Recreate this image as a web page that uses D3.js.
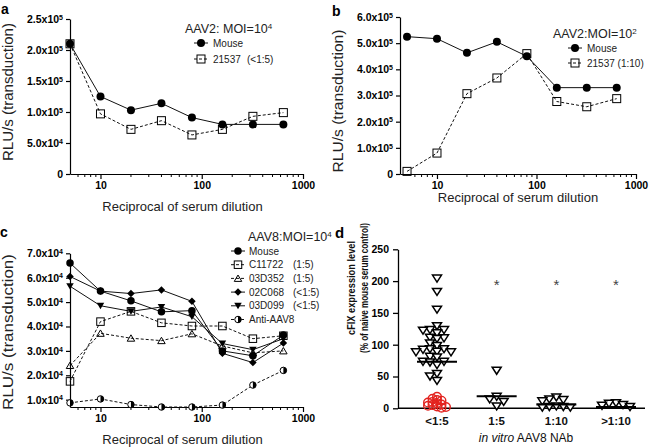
<!DOCTYPE html>
<html><head><meta charset="utf-8">
<script src="https://cdn.jsdelivr.net/npm/d3@7"></script>
<style>
body{margin:0;background:#fff}
svg{display:block;font-family:"Liberation Sans",Arial,sans-serif}
</style></head><body>
<svg id="chart" width="654" height="447"></svg>
<script>
// ---------- data ----------
const dilutions = [5, 10, 20, 40, 80, 160, 320, 640];
const xMajorTicks = [10, 100, 1000];
const xMinorTicks = [6, 7, 8, 9, 20, 30, 40, 50, 60, 70, 80, 90, 200, 300, 400, 500, 600, 700, 800, 900];

const aMouse = [2.10e5, 1.25e5, 1.03e5, 1.14e5, 0.91e5, 0.80e5, 0.80e5, 0.80e5];
const a21537 = [2.10e5, 0.97e5, 0.72e5, 0.86e5, 0.63e5, 0.72e5, 0.93e5, 0.99e5];
const aYTicks = [0, 5e4, 1e5, 1.5e5, 2e5, 2.5e5];
const aYLabels = ["0", "5.0x10^4", "1.0x10^5", "1.5x10^5", "2.0x10^5", "2.5x10^5"];

const bMouse = [5.25e5, 5.17e5, 4.63e5, 5.05e5, 4.5e5, 3.3e5, 3.3e5, 3.3e5];
const b21537 = [0.10e5, 0.80e5, 3.07e5, 3.67e5, 4.60e5, 2.77e5, 2.57e5, 2.88e5];
const bYTicks = [0, 1e5, 2e5, 3e5, 4e5, 5e5, 6e5];
const bYLabels = ["0", "1.0x10^5", "2.0x10^5", "3.0x10^5", "4.0x10^5", "5.0x10^5", "6.0x10^5"];

const cMouse  = [6.60e4, 5.45e4, 5.05e4, 4.60e4, 4.65e4, 3.00e4, 2.80e4, 3.65e4];
const cC11722 = [1.75e4, 4.20e4, 4.62e4, 4.15e4, 4.02e4, 4.02e4, 3.50e4, 3.62e4];
const c03D352 = [2.40e4, 3.72e4, 3.52e4, 3.42e4, 3.70e4, 3.20e4, 2.92e4, 3.00e4];
const c02C068 = [6.05e4, 5.45e4, 5.35e4, 5.50e4, 5.03e4, 2.90e4, 2.52e4, 3.32e4];
const c03D099 = [5.65e4, 4.85e4, 4.62e4, 4.80e4, 4.40e4, 3.30e4, 3.05e4, 3.50e4];
const cAnti   = [0.87e4, 1.03e4, 0.80e4, 0.70e4, 0.70e4, 0.78e4, 1.60e4, 2.20e4];
const cYTicks = [1e4, 2e4, 3e4, 4e4, 5e4, 6e4, 7e4];
const cYLabels = ["1.0x10^4", "2.0x10^4", "3.0x10^4", "4.0x10^4", "5.0x10^4", "6.0x10^4", "7.0x10^4"];

const dCategories = ["<1:5", "1:5", "1:10", ">1:10"];
const dTriLt5 = [204, 183, 155, 129, 123, 123, 122, 118, 111, 110, 109, 102, 98, 93, 93, 92, 89, 88, 88, 81, 80, 73, 73, 72, 68, 54, 50, 43];
const dCircLt5 = [18, 15, 13, 12, 10, 9, 8, 6, 5, 4, 3, 2, 1];
const dTri15 = [59, 18, 14, 10, 3];
const dTri110 = [17, 14, 13, 11, 3, 2, 2, 1, 1];
const dTriGt110 = [8, 7, 5, 4, 2];
const dMedians = [73, 19, 6, 2];
const dSignificant = [false, true, true, true];
const dStarLevel = 200;
const dYTicks = [0, 50, 100, 150, 200, 250];

// ---------- helpers ----------
const svg = d3.select("#chart");

function drawMarker(g, type, cx, cy, s) {
  const h = s / 2;
  if (type === "circle") {
    g.append("circle").attr("cx", cx).attr("cy", cy).attr("r", h).attr("fill", "#000");
  } else if (type === "square") {
    g.append("rect").attr("x", cx - h).attr("y", cy - h).attr("width", s).attr("height", s)
      .attr("fill", "none").attr("stroke", "#000").attr("stroke-width", 1);
  } else if (type === "triUp") {
    g.append("path").attr("d", `M${cx - h},${cy + h * 0.8}L${cx + h},${cy + h * 0.8}L${cx},${cy - h * 0.9}Z`)
      .attr("fill", "none").attr("stroke", "#000").attr("stroke-width", 1);
  } else if (type === "triDown") {
    g.append("path").attr("d", `M${cx - h},${cy - h * 0.8}L${cx + h},${cy - h * 0.8}L${cx},${cy + h * 0.9}Z`)
      .attr("fill", "#000");
  } else if (type === "diamond") {
    g.append("path").attr("d", `M${cx},${cy - h}L${cx + h},${cy}L${cx},${cy + h}L${cx - h},${cy}Z`)
      .attr("fill", "#000");
  } else if (type === "half") {
    g.append("circle").attr("cx", cx).attr("cy", cy).attr("r", h - 0.5)
      .attr("fill", "#fff").attr("stroke", "#000").attr("stroke-width", 1);
    g.append("path").attr("d", `M${cx},${cy - h + 0.5}A${h - 0.5},${h - 0.5} 0 0 1 ${cx},${cy + h - 0.5}Z`)
      .attr("fill", "#000");
  }
}

function supText(sel, str, sub) {
  const [m, e] = str.split("^");
  sel.append("tspan").text(m);
  if (e) sel.append("tspan").attr("dy", "-0.45em").attr("font-size", sub).text(e);
}

function linePanel(o) {
  const g = svg.append("g");
  const x = d3.scaleLog().domain(o.xDomain).range(o.xRange);
  const y = d3.scaleLinear().domain(o.yDomain).range(o.yRange);
  const y0 = o.yRange[0];

  // y axis
  const ya = g.append("g").attr("transform", `translate(${o.xRange[0]},0)`)
    .call(d3.axisLeft(y).tickValues(o.yTicks).tickSize(4).tickSizeOuter(0).tickPadding(3));
  ya.selectAll(".tick text").each(function (d, i) {
    const t = d3.select(this).text(null);
    supText(t, o.yLabels[i], "7px");
  }).attr("font-size", 10.5).attr("font-weight", "bold").attr("fill", "#000")
    .attr("font-family", "Liberation Sans, Arial, sans-serif");
  ya.selectAll("path,line").attr("stroke", "#000").attr("stroke-width", 1.2);

  // x axis
  const xa = g.append("g").attr("transform", `translate(0,${y0})`)
    .call(d3.axisBottom(x).tickValues(xMajorTicks).tickFormat(d3.format("d")).tickSize(5).tickSizeOuter(0).tickPadding(3));
  xa.selectAll(".tick text").attr("font-size", 10.5).attr("font-weight", "bold").attr("fill", "#000")
    .attr("font-family", "Liberation Sans, Arial, sans-serif");
  xa.selectAll("path,line").attr("stroke", "#000").attr("stroke-width", 1.2);
  xa.selectAll(".minor").data(xMinorTicks.filter(v => v >= o.xDomain[0])).enter().append("line")
    .attr("x1", d => x(d)).attr("x2", d => x(d)).attr("y1", 0).attr("y2", 3)
    .attr("stroke", "#000").attr("stroke-width", 1);

  // series
  const line = d3.line().x((d, i) => x(dilutions[i])).y(d => y(d));
  o.series.forEach(s => {
    g.append("path").attr("d", line(s.values)).attr("fill", "none").attr("stroke", "#111")
      .attr("stroke-width", 1).attr("stroke-dasharray", s.dashed ? "3,2" : null);
  });
  o.series.forEach(s => {
    const mg = g.append("g");
    s.values.forEach((v, i) => drawMarker(mg, s.marker, x(dilutions[i]), y(v), o.markerSize));
  });

  // axis titles
  g.append("text").attr("x", (o.xRange[0] + o.xRange[1]) / 2 + o.xLabelDx).attr("y", o.xLabelY)
    .attr("text-anchor", "middle").attr("font-size", 13).attr("fill", "#222")
    .text("Reciprocal of serum dilution");
  g.append("text").attr("transform", `translate(${o.yLabelX},${o.yLabelCY}) rotate(-90)`)
    .attr("text-anchor", "middle").attr("font-size", 14).attr("fill", "#222")
    .attr("textLength", o.yLabelLen).attr("lengthAdjust", "spacingAndGlyphs")
    .text("RLU/s (transduction)");

  // panel letter
  g.append("text").attr("x", o.letterX).attr("y", o.letterY).attr("font-size", 14)
    .attr("font-weight", "bold").text(o.letter);

  // title
  const tt = g.append("text").attr("x", o.titleX).attr("y", o.titleY).attr("font-size", 12.5).attr("fill", "#222");
  supText(tt, o.title, "8px");

  // legend
  o.series.forEach((s, i) => {
    const ly = o.legY + i * o.legStep;
    g.append("line").attr("x1", o.legX - 7).attr("x2", o.legX + 7).attr("y1", ly).attr("y2", ly)
      .attr("stroke", "#111").attr("stroke-width", 1).attr("stroke-dasharray", s.dashed ? "3,2" : null);
    drawMarker(g, s.marker, o.legX, ly, o.markerSize);
    g.append("text").attr("x", o.legX + o.legTextDx).attr("y", ly + 3.5).attr("font-size", 10).attr("fill", "#222").text(s.name);
    if (s.note) g.append("text").attr("x", o.legX + o.legNoteDx).attr("y", ly + 3.5).attr("font-size", 10).attr("fill", "#222").text(s.note);
  });
}

// ---------- panel a ----------
linePanel({
  xDomain: [5, 1000], xRange: [70, 303], yDomain: [0, 2.5e5], yRange: [174, 19],
  yTicks: aYTicks, yLabels: aYLabels, markerSize: 8,
  series: [
    { name: "Mouse", values: aMouse, marker: "circle", dashed: false },
    { name: "21537", note: "(<1:5)", values: a21537, marker: "square", dashed: true }
  ],
  xLabelY: 211, xLabelDx: -4, yLabelX: 13, yLabelCY: 92, yLabelLen: 138,
  letter: "a", letterX: 1, letterY: 14,
  title: "AAV2: MOI=10^4", titleX: 185, titleY: 33,
  legX: 201, legY: 43, legStep: 16, legTextDx: 12, legNoteDx: 46
});

// ---------- panel b ----------
linePanel({
  xDomain: [4.25, 1000], xRange: [400, 636], yDomain: [0, 6e5], yRange: [174, 17],
  yTicks: bYTicks, yLabels: bYLabels, markerSize: 8,
  series: [
    { name: "Mouse", values: bMouse, marker: "circle", dashed: false },
    { name: "21537 (1:10)", values: b21537, marker: "square", dashed: true }
  ],
  xLabelY: 202, xLabelDx: 0, yLabelX: 343, yLabelCY: 101, yLabelLen: 143,
  letter: "b", letterX: 332, letterY: 16,
  title: "AAV2:MOI=10^2", titleX: 553, titleY: 38,
  legX: 575, legY: 48, legStep: 15, legTextDx: 12, legNoteDx: 0
});

// ---------- panel c ----------
linePanel({
  xDomain: [5, 1000], xRange: [70, 303], yDomain: [0.7e4, 7e4], yRange: [407, 253.3],
  yTicks: cYTicks, yLabels: cYLabels, markerSize: 7.5,
  series: [
    { name: "Mouse", values: cMouse, marker: "circle", dashed: false },
    { name: "C11722", note: "(1:5)", values: cC11722, marker: "square", dashed: true },
    { name: "03D352", note: "(1:5)", values: c03D352, marker: "triUp", dashed: true },
    { name: "02C068", note: "(<1:5)", values: c02C068, marker: "diamond", dashed: false },
    { name: "03D099", note: "(<1:5)", values: c03D099, marker: "triDown", dashed: false },
    { name: "Anti-AAV8", values: cAnti, marker: "half", dashed: true }
  ],
  xLabelY: 444, xLabelDx: -4, yLabelX: 13, yLabelCY: 332, yLabelLen: 156,
  letter: "c", letterX: 0, letterY: 237,
  title: "AAV8:MOI=10^4", titleX: 248, titleY: 241,
  legX: 238, legY: 251, legStep: 13.7, legTextDx: 11, legNoteDx: 55
});

// ---------- panel d ----------
(function () {
  const g = svg.append("g");
  const y = d3.scaleLinear().domain([0, 250]).range([408.3, 249.3]);
  const x = d3.scalePoint().domain(dCategories).range([437, 616]);
  const axX0 = 398, axX1 = 645;

  const ya = g.append("g").attr("transform", `translate(${axX0},0)`)
    .call(d3.axisLeft(y).tickValues(dYTicks).tickSize(5).tickSizeOuter(0).tickPadding(4));
  ya.selectAll(".tick text").attr("font-size", 10.5).attr("font-weight", "bold").attr("fill", "#000")
    .attr("font-family", "Liberation Sans, Arial, sans-serif");
  ya.selectAll("path,line").attr("stroke", "#000").attr("stroke-width", 1.3);

  g.append("line").attr("x1", axX0).attr("x2", axX1).attr("y1", y(0)).attr("y2", y(0))
    .attr("stroke", "#000").attr("stroke-width", 1.5);

  g.selectAll(".cat").data(dCategories).enter().append("text")
    .attr("x", d => x(d)).attr("y", y(0) + 17).attr("text-anchor", "middle")
    .attr("font-size", 11.5).attr("font-weight", "bold").attr("fill", "#111").text(d => d);

  function swarm(values, cx, step, minDy) {
    const placed = [];
    values.slice().sort((a, b) => b - a).forEach(v => {
      const py = y(v);
      for (let k = 0; k < 60; k++) {
        const off = k === 0 ? 0 : (k % 2 ? -Math.ceil(k / 2) : Math.ceil(k / 2)) * step;
        const px = cx + off;
        if (placed.every(q => Math.abs(q.y - py) >= minDy || Math.abs(q.x - px) >= step * 0.95)) {
          placed.push({ x: px, y: py }); break;
        }
      }
    });
    return placed;
  }

  const tri = (cx, cy) => `M${cx - 4.5},${cy - 3.5}L${cx + 4.5},${cy - 3.5}L${cx},${cy + 3.5}Z`;
  const groups = [dTriLt5, dTri15, dTri110, dTriGt110];

  // red circles in first group
  swarm(dCircLt5, x(dCategories[0]), 4.5, 3).forEach(p => {
    g.append("circle").attr("cx", p.x).attr("cy", p.y).attr("r", 4.3)
      .attr("fill", "none").attr("stroke", "#e3231f").attr("stroke-width", 1.4);
  });

  groups.forEach((vals, gi) => {
    swarm(vals, x(dCategories[gi]), 7, 5.5).forEach(p => {
      g.append("path").attr("d", tri(p.x, p.y)).attr("fill", "#fff")
        .attr("stroke", "#000").attr("stroke-width", 1.5).attr("stroke-linejoin", "miter");
    });
  });

  dMedians.forEach((m, i) => {
    const cx = x(dCategories[i]);
    g.append("line").attr("x1", cx - 20).attr("x2", cx + 20).attr("y1", y(m)).attr("y2", y(m))
      .attr("stroke", "#000").attr("stroke-width", 2);
  });

  dSignificant.forEach((s, i) => {
    if (!s) return;
    g.append("text").attr("x", x(dCategories[i])).attr("y", y(dStarLevel) + 9)
      .attr("text-anchor", "middle").attr("font-size", 15).attr("fill", "#444").text("*");
  });

  // axis titles
  const yl = g.append("g").attr("transform", `translate(0,288) rotate(-90)`);
  yl.append("text").attr("x", 0).attr("y", 355).attr("text-anchor", "middle")
    .attr("font-size", 11).attr("font-weight", "bold").attr("fill", "#111")
    .attr("textLength", 94).attr("lengthAdjust", "spacingAndGlyphs").text("cFIX expression level");
  yl.append("text").attr("x", 0).attr("y", 368).attr("text-anchor", "middle")
    .attr("font-size", 11).attr("font-weight", "bold").attr("fill", "#111")
    .attr("textLength", 130).attr("lengthAdjust", "spacingAndGlyphs").text("(% of naive mouse serum control)");

  const xt = g.append("text").attr("x", 526).attr("y", 442).attr("text-anchor", "middle")
    .attr("font-size", 12).attr("fill", "#111");
  xt.append("tspan").attr("font-style", "italic").text("in vitro");
  xt.append("tspan").text(" AAV8 NAb");

  g.append("text").attr("x", 335).attr("y", 238).attr("font-size", 15).attr("font-weight", "bold").text("d");
})();
</script></body></html>
